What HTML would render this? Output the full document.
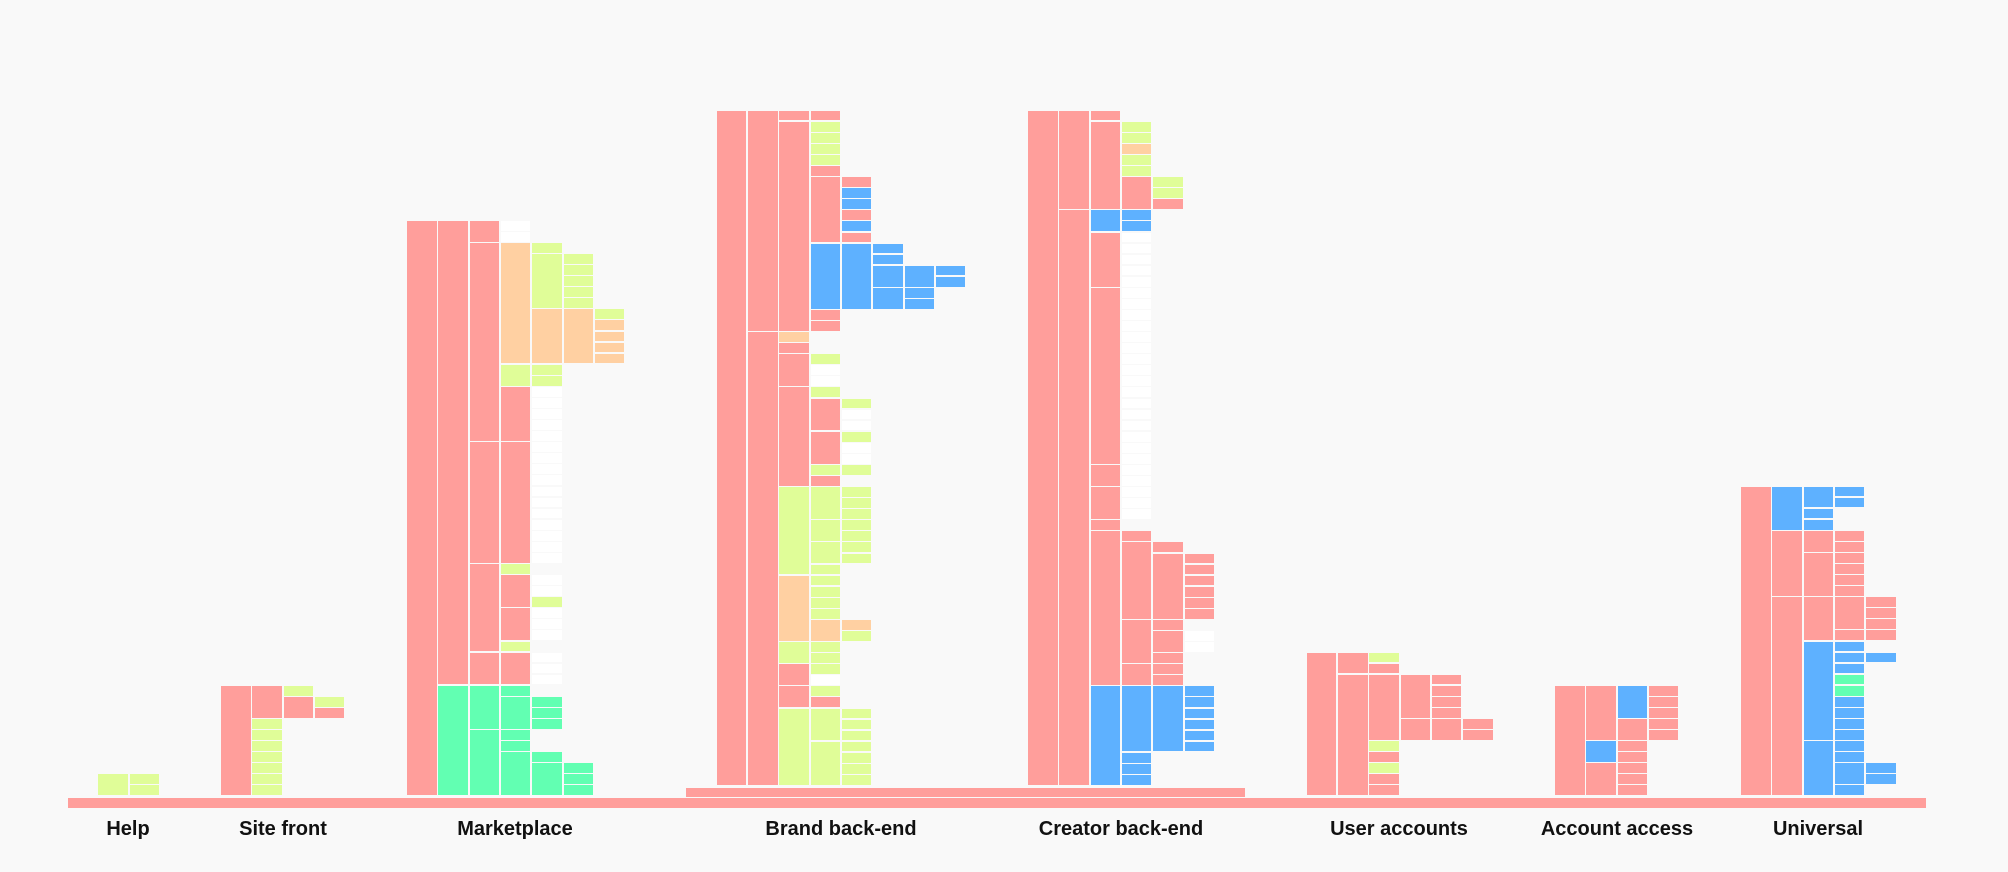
<!DOCTYPE html>
<html><head><meta charset="utf-8"><style>
html,body{margin:0;padding:0;background:#f9f9f9;}
#root{position:relative;width:2008px;height:872px;overflow:hidden;font-family:"Liberation Sans",sans-serif;}
.cell{position:absolute;box-sizing:border-box;display:flex;align-items:center;justify-content:center;font-size:4px;color:#555;text-align:center;overflow:hidden;}
.bar{position:absolute;background:#ff9e9b;}
.title{position:absolute;top:818px;font-weight:bold;font-size:20px;color:#111;transform:translateX(-50%);white-space:nowrap;}
</style></head><body>
<div id="root">
<div class="bar" style="left:68px;top:798px;width:1858px;height:10px"></div>
<div class="bar" style="left:686px;top:788px;width:559px;height:9px"></div>
<div class="title" style="left:128px">Help</div>
<div class="title" style="left:283px">Site front</div>
<div class="title" style="left:515px">Marketplace</div>
<div class="title" style="left:841px">Brand back-end</div>
<div class="title" style="left:1121px">Creator back-end</div>
<div class="title" style="left:1399px">User accounts</div>
<div class="title" style="left:1617px">Account access</div>
<div class="title" style="left:1818px">Universal</div>
</div>
<script>
const colors = {p:'#ff9e9b',l:'#e0fd98',g:'#62ffb2',b:'#5eb1ff',o:'#ffd0a2',w:'#ffffff'};
const sectionNames = ['help','site-front','marketplace','brand-back-end','creator-back-end','user-accounts','account-access','universal'];
const sectionX = [98.3,221,407,716.7,1028,1306.7,1555,1741];
const sectionBottom = [796.5,796.5,796.5,786,786,796.5,796.5,796.5];
const sectionRows = [2,10,52,61,61,13,10,28];
const sectionCells = [
"0,0,1,l 1,0,0,l 1,1,1,l",
"0,0,9,p 1,0,2,p 1,3,3,l 1,4,4,l 1,5,5,l 1,6,6,l 1,7,7,l 1,8,8,l 1,9,9,l 2,0,0,l 2,1,2,p 3,1,1,l 3,2,2,p",
"0,0,51,p 1,0,41,p 1,42,51,g 2,0,1,p 2,2,19,p 2,20,30,p 2,31,38,p 2,39,41,p 2,42,45,g 2,46,51,g "+
"3,0,0,w 3,1,1,w 3,2,12,o 3,13,14,l 3,15,19,p 3,20,30,p 3,31,31,l 3,32,34,p 3,35,37,p 3,38,38,l 3,39,41,p 3,42,42,g 3,43,45,g 3,46,46,g 3,47,47,g 3,48,51,g "+
"4,2,2,l 4,3,7,l 4,8,12,o 4,13,13,l 4,14,14,l 4,15,15,w 4,16,16,w 4,17,17,w 4,18,18,w 4,19,19,w 4,20,20,w 4,21,21,w 4,22,22,w 4,23,23,w 4,24,24,w 4,25,25,w 4,26,26,w 4,27,27,w 4,28,28,w 4,29,29,w 4,30,30,w "+
"4,32,32,w 4,33,33,w 4,34,34,l 4,35,35,w 4,36,36,w 4,37,37,w 4,39,39,w 4,40,40,w 4,41,41,w 4,43,43,g 4,44,44,g 4,45,45,g 4,48,48,g 4,49,51,g "+
"5,3,3,l 5,4,4,l 5,5,5,l 5,6,6,l 5,7,7,l 5,8,12,o 6,8,8,l 6,9,9,o 6,10,10,o 6,11,11,o 6,12,12,o 5,49,49,g 5,50,50,g 5,51,51,g",
"0,0,60,p 1,0,19,p 1,20,60,p 2,0,0,p 2,1,19,p 2,20,20,o 2,21,21,p 2,22,24,p 2,25,33,p 2,34,41,l 2,42,47,o 2,48,49,l 2,50,51,p 2,52,53,p 2,54,60,l "+
"3,0,0,p 3,1,1,l 3,2,2,l 3,3,3,l 3,4,4,l 3,5,5,p 3,6,11,p 3,12,17,b 3,18,18,p 3,19,19,p 3,22,22,l 3,23,23,w 3,24,24,w 3,25,25,l 3,26,28,p 3,29,31,p 3,32,32,l 3,33,33,p "+
"3,34,36,l 3,37,38,l 3,39,40,l 3,41,41,l 3,42,42,l 3,43,43,l 3,44,44,l 3,45,45,l 3,46,47,o 3,48,48,l 3,49,49,l 3,50,50,l 3,51,51,w 3,52,52,l 3,53,53,p 3,54,56,l 3,57,60,l "+
"4,6,6,p 4,7,7,b 4,8,8,b 4,9,9,p 4,10,10,b 4,11,11,p 4,12,17,b 4,26,26,l 4,27,27,w 4,28,28,w 4,29,29,l 4,30,30,w 4,31,31,w 4,32,32,l "+
"4,34,34,l 4,35,35,l 4,36,36,l 4,37,37,l 4,38,38,l 4,39,39,l 4,40,40,l 4,46,46,o 4,47,47,l 4,54,54,l 4,55,55,l 4,56,56,l 4,57,57,l 4,58,58,l 4,59,59,l 4,60,60,l "+
"5,12,12,b 5,13,13,b 5,14,15,b 5,16,17,b 6,14,15,b 6,16,16,b 6,17,17,b 7,14,14,b 7,15,15,b",
"0,0,60,p 1,0,8,p 1,9,60,p 2,0,0,p 2,1,8,p 2,9,10,b 2,11,15,p 2,16,31,p 2,32,33,p 2,34,36,p 2,37,37,p 2,38,51,p 2,52,60,b "+
"3,1,1,l 3,2,2,l 3,3,3,o 3,4,4,l 3,5,5,l 3,6,8,p 3,9,9,b 3,10,10,b "+
"3,11,11,w 3,12,12,w 3,13,13,w 3,14,14,w 3,15,15,w 3,16,16,w 3,17,17,w 3,18,18,w 3,19,19,w 3,20,20,w 3,21,21,w 3,22,22,w 3,23,23,w 3,24,24,w 3,25,25,w 3,26,26,w 3,27,27,w 3,28,28,w 3,29,29,w 3,30,30,w 3,31,31,w 3,32,32,w 3,33,33,w 3,34,34,w 3,35,35,w 3,36,36,w "+
"3,38,38,p 3,39,45,p 3,46,49,p 3,50,51,p 3,52,57,b 3,58,58,b 3,59,59,b 3,60,60,b "+
"4,6,6,l 4,7,7,l 4,8,8,p 4,39,39,p 4,40,45,p 4,46,46,p 4,47,48,p 4,49,49,p 4,50,50,p 4,51,51,p 4,52,57,b "+
"5,40,40,p 5,41,41,p 5,42,42,p 5,43,43,p 5,44,44,p 5,45,45,p 5,47,47,w 5,48,48,w 5,52,52,b 5,53,53,b 5,54,54,b 5,55,55,b 5,56,56,b 5,57,57,b",
"0,0,12,p 1,0,1,p 1,2,12,p 2,0,0,l 2,1,1,p 2,2,7,p 2,8,8,l 2,9,9,p 2,10,10,l 2,11,11,p 2,12,12,p 3,2,5,p 3,6,7,p 4,2,2,p 4,3,3,p 4,4,4,p 4,5,5,p 4,6,7,p 5,6,6,p 5,7,7,p",
"0,0,9,p 1,0,4,p 1,5,6,b 1,7,9,p 2,0,2,b 2,3,4,p 2,5,5,p 2,6,6,p 2,7,7,p 2,8,8,p 2,9,9,p 3,0,0,p 3,1,1,p 3,2,2,p 3,3,3,p 3,4,4,p",
"0,0,27,p 1,0,3,b 1,4,9,p 1,10,27,p 2,0,1,b 2,2,2,b 2,3,3,b 2,4,5,p 2,6,9,p 2,10,13,p 2,14,22,b 2,23,27,b "+
"3,0,0,b 3,1,1,b 3,4,4,p 3,5,5,p 3,6,6,p 3,7,7,p 3,8,8,p 3,9,9,p 3,10,12,p 3,13,13,p 3,14,14,b 3,15,15,b 3,16,16,b 3,17,17,g 3,18,18,g 3,19,19,b 3,20,20,b 3,21,21,b 3,22,22,b 3,23,23,b 3,24,24,b 3,25,26,b 3,27,27,b "+
"4,10,10,p 4,11,11,p 4,12,12,p 4,13,13,p 4,15,15,b 4,25,25,b 4,26,26,b"
];
const root = document.getElementById('root');
const PITCH = 11.07, STRIDE = 31.3, CW = 29.6;
sectionCells.forEach(function(spec, si){
  const top = sectionBottom[si] - sectionRows[si]*PITCH;
  spec.trim().split(/\s+/).forEach(function(tok, ci){
    const parts = tok.split(',');
    const c = +parts[0], r0 = +parts[1], r1 = +parts[2], k = parts[3];
    const el = document.createElement('div');
    el.className = 'cell';
    
    
    el.style.left = (sectionX[si] + c*STRIDE) + 'px';
    el.style.top = (top + r0*PITCH) + 'px';
    el.style.width = CW + 'px';
    el.style.height = ((r1 - r0 + 1)*PITCH - 1.3) + 'px';
    el.style.background = colors[k];
    root.appendChild(el);
  });
});
</script>
</body></html>
